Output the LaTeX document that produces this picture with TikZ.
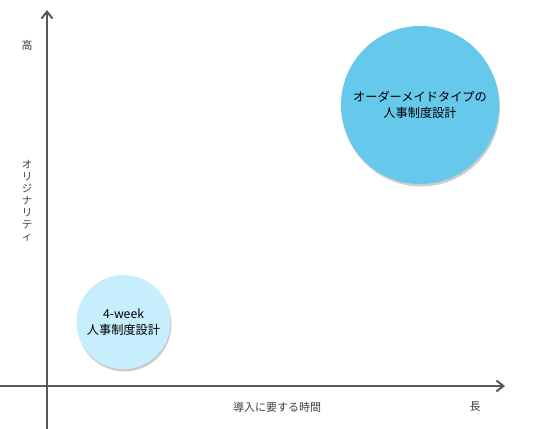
\documentclass[tikz,border=0pt]{standalone}
\usepackage{fontspec}
\setmainfont{Noto Sans CJK JP}
\usetikzlibrary{arrows.meta,shadows}
\definecolor{axisgray}{HTML}{595959}
\definecolor{labelgray}{HTML}{404040}
\definecolor{bigblue}{HTML}{66C8EA}
\definecolor{paleblue}{HTML}{C6EEFC}
\begin{document}
\begin{tikzpicture}[x=1pt, y=1pt,
    axis/.style={draw=axisgray, line width=2pt, -{Straight Barb[length=7pt, width=11pt]}},
    axislabel/.style={text=labelgray, font=\fontsize{11}{12}\selectfont, inner sep=0pt},
    bubble/.style={circle, inner sep=0pt, align=center, text=black,
        font=\fontsize{12.2}{15.5}\selectfont,
        drop shadow={shadow xshift=1pt, shadow yshift=-2.5pt, fill=black, opacity=0.2}}]
    \useasboundingbox (0,0) rectangle (539,429);
    % axes
    \coordinate (ybot) at (47,0);
    \coordinate (ytop) at (47,419);
    \coordinate (xstart) at (0,43);
    \coordinate (xend) at (505,43);
    \draw[axis] (ybot) -- (ytop);
    \draw[axis] (xstart) -- (xend);
    % axis labels
    \node[axislabel] (high) at (27,384) {高};
    \node[axislabel, align=center, font=\fontsize{10.5}{12}\selectfont] (orig) at (27,228)
        {オ\\リ\\ジ\\ナ\\リ\\テ\\ィ};
    \node[axislabel] (time) at (277,22) {導入に要する時間};
    \node[axislabel] (long) at (475,22) {長};
    % bubbles
    \node[bubble, fill=bigblue, minimum size=158pt] (custom) at (420,324)
        {オーダーメイドタイプの\\人事制度設計};
    \node[bubble, fill=paleblue, minimum size=94pt] (week) at (123.5,107)
        {4-week\\人事制度設計};
\end{tikzpicture}
\end{document}
